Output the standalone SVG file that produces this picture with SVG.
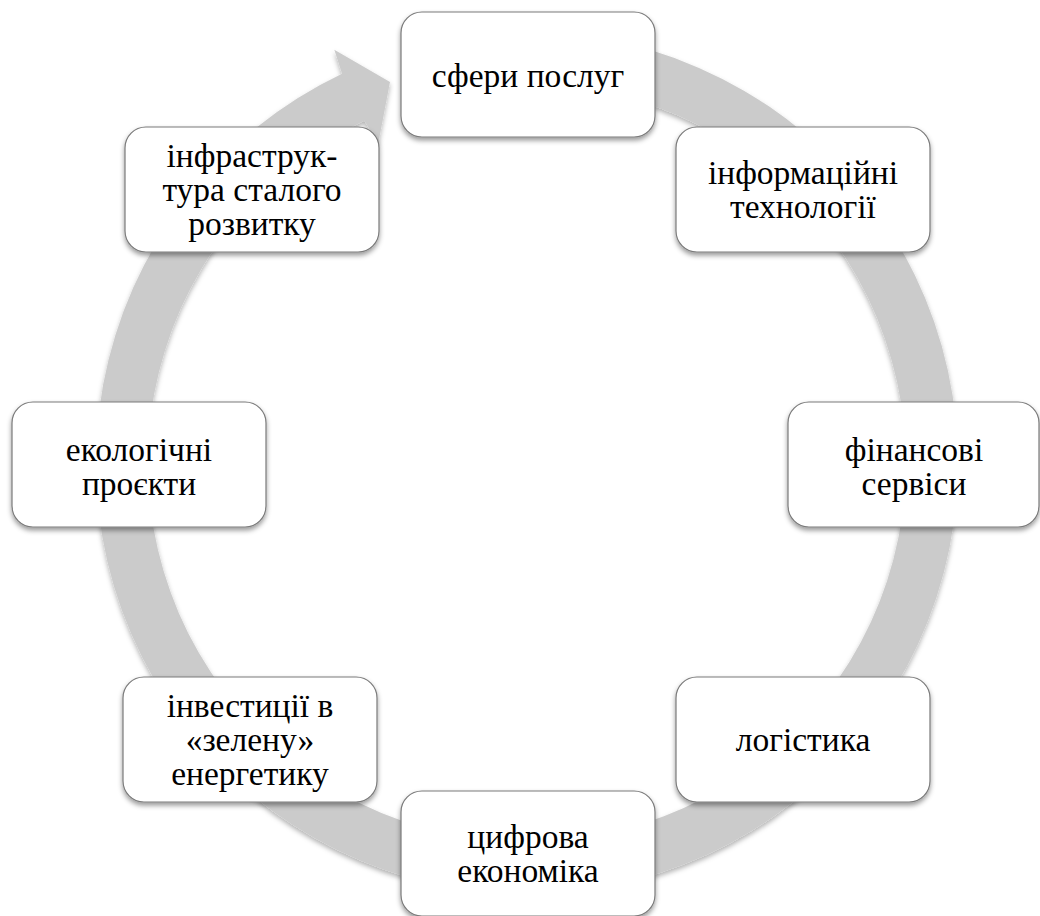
<svg xmlns="http://www.w3.org/2000/svg" width="1040" height="916" viewBox="0 0 1040 916">
<defs>
<filter id="sh" x="-20%" y="-20%" width="140%" height="150%">
<feDropShadow dx="0" dy="3" stdDeviation="2.5" flood-color="#000" flood-opacity="0.4"/>
</filter>
<filter id="shb" x="-10%" y="-10%" width="120%" height="120%">
<feDropShadow dx="0" dy="3" stdDeviation="2.5" flood-color="#000" flood-opacity="0.3"/>
</filter>
</defs>
<style>
.box{fill:#ffffff;stroke:#7a7a7a;stroke-width:1.2;filter:url(#sh)}
.t{font-family:"Liberation Serif","Times New Roman",serif;font-size:33.5px;fill:#000;text-anchor:middle}
.band{fill:#cbcbcb;filter:url(#shb)}
</style>
<rect width="1040" height="916" fill="#ffffff"/>
<g id="connectors">
<path class="band" d="M 601.8 38.6 A 431 431 0 1 1 342.1 73.7 L 334.3 49.7 L 390 82 L 378.2 144 L 364.4 120.6 A 379 379 0 1 0 592.8 89.8 Z"/>
</g>
<g id="node1">
<rect class="box" x="401" y="12" width="254" height="125" rx="21"/>
<text class="t" x="528" y="87">сфери послуг</text>
</g>
<g id="node2">
<rect class="box" x="676" y="127" width="254" height="125" rx="21"/>
<text class="t" x="803" y="184">інформаційні</text>
<text class="t" x="803" y="218">технології</text>
</g>
<g id="node3">
<rect class="box" x="788" y="402" width="251" height="125" rx="21"/>
<text class="t" x="914" y="461">фінансові</text>
<text class="t" x="914" y="495">сервіси</text>
</g>
<g id="node4">
<rect class="box" x="676" y="677" width="254" height="125" rx="21"/>
<text class="t" x="803" y="751">логістика</text>
</g>
<g id="node5">
<rect class="box" x="401" y="791" width="254" height="125" rx="21"/>
<text class="t" x="528" y="848">цифрова</text>
<text class="t" x="528" y="882">економіка</text>
</g>
<g id="node6">
<rect class="box" x="123" y="677" width="254" height="125" rx="21"/>
<text class="t" x="250" y="717">інвестиції в</text>
<text class="t" x="250" y="751">«зелену»</text>
<text class="t" x="250" y="785">енергетику</text>
</g>
<g id="node7">
<rect class="box" x="12" y="402" width="254" height="125" rx="21"/>
<text class="t" x="139" y="461">екологічні</text>
<text class="t" x="139" y="495">проєкти</text>
</g>
<g id="node8">
<rect class="box" x="125" y="127" width="254" height="125" rx="21"/>
<text class="t" x="252" y="167">інфраструк-</text>
<text class="t" x="252" y="201">тура сталого</text>
<text class="t" x="252" y="235">розвитку</text>
</g>
</svg>
